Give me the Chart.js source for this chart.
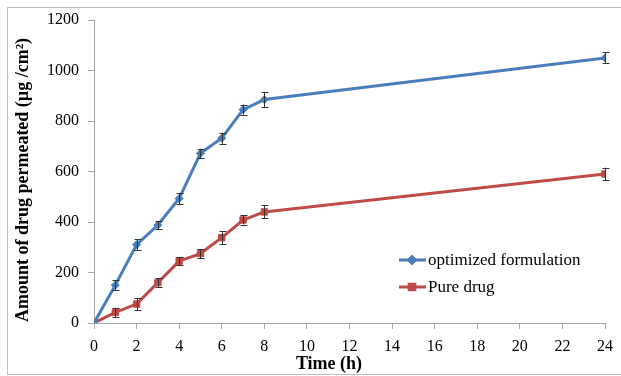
<!DOCTYPE html>
<html>
<head>
<meta charset="utf-8">
<script src="https://cdn.jsdelivr.net/npm/chart.js@4/dist/chart.umd.min.js"></script>
<style>
  html, body { margin: 0; padding: 0; background: #ffffff; }
  #wrap { position: relative; width: 621px; height: 376px; }
</style>
</head>
<body>
<div id="wrap"><canvas id="permeationChart" width="621" height="376"></canvas></div>
<script>
const hours = [0, 1, 2, 3, 4, 5, 6, 7, 8, 24];
const optimizedMean = [0, 150, 310, 388, 493, 672, 732, 845, 885, 1050];
const optimizedSD = [0, 20, 22, 15, 22, 18, 22, 20, 30, 22];
const pureMean = [0, 42, 75, 160, 245, 275, 338, 408, 440, 590];
const pureSD = [0, 18, 24, 18, 16, 18, 26, 18, 26, 25];
const xTicks = [0, 2, 4, 6, 8, 10, 12, 14, 16, 18, 20, 22, 24];
const yTicks = [0, 200, 400, 600, 800, 1000, 1200];

const seriesNames = ['optimized formulation', 'Pure drug'];
const xTitle = 'Time (h)';
const yTitle = 'Amount of drug permeated (µg /cm²)';
const blue = '#4A7EBB';
const red = '#BE4B48';
const axisGray = '#A6A6A6';
const serif = "'Liberation Serif', 'DejaVu Serif', serif";

// frame around the whole figure
const framePlugin = {
    id: 'frame',
    beforeDraw(chart) {
        const ctx = chart.ctx;
        ctx.save();
        ctx.fillStyle = '#ffffff';
        ctx.fillRect(0, 0, chart.width, chart.height);
        ctx.strokeStyle = '#BFBFBF';
        ctx.lineWidth = 1;
        ctx.strokeRect(7.5, 7.5, chart.width, chart.height - 9);
        ctx.restore();
    }
};

// axis titles, placed like the original (slightly off the plot centre)
const axisTitlePlugin = {
    id: 'axisTitles',
    afterDraw(chart) {
        const ctx = chart.ctx;
        ctx.save();
        ctx.fillStyle = '#000000';
        ctx.font = 'bold 18px ' + serif;
        ctx.textAlign = 'center';
        ctx.textBaseline = 'middle';
        ctx.fillText(xTitle, 329, 364);
        ctx.translate(23, 180);
        ctx.rotate(-Math.PI / 2);
        ctx.fillText(yTitle, 0, 0);
        ctx.restore();
    }
};

// error bars from the SD arrays
const errorBarPlugin = {
    id: 'errorBars',
    afterDatasetsDraw(chart) {
        const ctx = chart.ctx;
        const yScale = chart.scales.y;
        ctx.save();
        ctx.strokeStyle = '#333333';
        ctx.lineWidth = 1;
        chart.data.datasets.forEach((ds, i) => {
            const meta = chart.getDatasetMeta(i);
            meta.data.forEach((pt, j) => {
                const sd = ds.errors[j];
                if (!sd) return;
                const top = yScale.getPixelForValue(ds.data[j].y + sd);
                const bottom = yScale.getPixelForValue(ds.data[j].y - sd);
                const x = Math.round(pt.x) + 0.5;
                ctx.beginPath();
                ctx.moveTo(x, top);
                ctx.lineTo(x, bottom);
                ctx.moveTo(x - 3, Math.round(top) + 0.5);
                ctx.lineTo(x + 4, Math.round(top) + 0.5);
                ctx.moveTo(x - 3, Math.round(bottom) + 0.5);
                ctx.lineTo(x + 4, Math.round(bottom) + 0.5);
                ctx.stroke();
            });
        });
        ctx.restore();
    }
};

// legend drawn inside the plot area
const insideLegendPlugin = {
    id: 'insideLegend',
    afterDraw(chart) {
        const ctx = chart.ctx;
        const rows = [
            { y: 260, color: blue, style: 'rectRot', radius: 3.5 },
            { y: 287, color: red, style: 'rect', radius: 4 }
        ];
        ctx.save();
        ctx.font = '17px ' + serif;
        ctx.textBaseline = 'middle';
        rows.forEach((row, i) => {
            ctx.strokeStyle = row.color;
            ctx.lineWidth = 3;
            ctx.beginPath();
            ctx.moveTo(399, row.y);
            ctx.lineTo(426, row.y);
            ctx.stroke();
            ctx.fillStyle = row.color;
            Chart.helpers.drawPoint(ctx, { pointStyle: row.style, radius: row.radius, borderWidth: 1 }, 412, row.y);
            ctx.fillStyle = '#000000';
            ctx.fillText(chart.data.datasets[i].label, 428, row.y + 1);
        });
        ctx.restore();
    }
};

const toPoints = (ys) => hours.map((h, i) => ({ x: h, y: ys[i] }));

new Chart(document.getElementById('permeationChart'), {
    type: 'line',
    data: {
        datasets: [{
            label: seriesNames[0],
            data: toPoints(optimizedMean),
            errors: optimizedSD,
            borderColor: blue,
            backgroundColor: blue,
            borderWidth: 3,
            pointStyle: 'rectRot',
            pointRadius: 4,
            pointBorderWidth: 1,
            tension: 0
        }, {
            label: seriesNames[1],
            data: toPoints(pureMean),
            errors: pureSD,
            borderColor: red,
            backgroundColor: red,
            borderWidth: 3,
            pointStyle: 'rect',
            pointRadius: 4.5,
            pointBorderWidth: 1,
            tension: 0
        }]
    },
    options: {
        responsive: false,
        animation: false,
        layout: { padding: { top: 20, right: 12, left: 0, bottom: 0 } },
        plugins: {
            legend: { display: false },
            tooltip: { enabled: false }
        },
        scales: {
            x: {
                type: 'linear',
                min: 0,
                max: 24,
                afterBuildTicks: (scale) => { scale.ticks = xTicks.map(v => ({ value: v })); },
                afterFit: (scale) => { scale.height = 53; },
                border: { color: axisGray, width: 1 },
                grid: { drawOnChartArea: false, tickLength: 6, color: axisGray },
                ticks: {
                    color: '#000000', padding: 8, maxRotation: 0,
                    callback: (v) => String(v),
                    font: { family: serif, size: 16 }
                }
            },
            y: {
                min: 0,
                max: 1200,
                afterBuildTicks: (scale) => { scale.ticks = yTicks.map(v => ({ value: v })); },
                afterFit: (scale) => { scale.width = 94; },
                border: { color: axisGray, width: 1 },
                grid: { drawOnChartArea: false, tickLength: 6, color: axisGray },
                ticks: {
                    color: '#000000', padding: 9,
                    callback: (v) => String(v),
                    font: { family: serif, size: 16 }
                }
            }
        }
    },
    plugins: [framePlugin, errorBarPlugin, insideLegendPlugin, axisTitlePlugin]
});
</script>
</body>
</html>
